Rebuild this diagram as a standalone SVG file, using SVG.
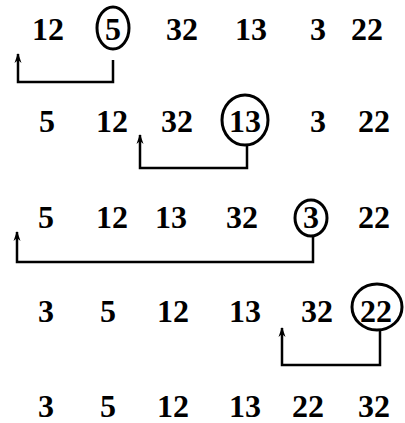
<svg xmlns="http://www.w3.org/2000/svg" width="405" height="423" viewBox="0 0 405 423">
<defs>
<style>
.num{font-weight:bold;font-size:32px;fill:#000;text-anchor:middle}
.ring{fill:none;stroke:#000;stroke-width:3}
.conn{fill:none;stroke:#000;stroke-width:2.5}
</style>
<marker id="ah" viewBox="0 0 10 8" refX="9" refY="4" markerWidth="10" markerHeight="8" markerUnits="userSpaceOnUse" orient="auto">
<path d="M0,0.5 L10,4 L0,7.5 L3,4 Z" fill="#000"/>
</marker>
</defs>
<rect width="405" height="423" fill="#fff"/>
<g font-family="Liberation Serif, Times New Roman, serif">
<g id="row1" class="num">
<text x="48" y="40">12</text>
<g id="r1-pivot"><ellipse class="ring" cx="113" cy="28" rx="16" ry="21"/><text x="113" y="40">5</text></g>
<text x="182" y="40">32</text>
<text x="251" y="40">13</text>
<text x="318" y="40">3</text>
<text x="367" y="40">22</text>
</g>
<g id="row2" class="num">
<text x="47" y="132">5</text>
<text x="112" y="132">12</text>
<text x="177" y="132">32</text>
<g id="r2-pivot"><ellipse class="ring" cx="245" cy="120" rx="23" ry="25"/><text x="245" y="132">13</text></g>
<text x="318" y="132">3</text>
<text x="374" y="132">22</text>
</g>
<g id="row3" class="num">
<text x="46" y="228">5</text>
<text x="112" y="228">12</text>
<text x="171" y="228">13</text>
<text x="242" y="228">32</text>
<g id="r3-pivot"><ellipse class="ring" cx="311" cy="218" rx="16" ry="18"/><text x="311" y="228">3</text></g>
<text x="374" y="228">22</text>
</g>
<g id="row4" class="num">
<text x="46" y="322">3</text>
<text x="108" y="322">5</text>
<text x="173" y="322">12</text>
<text x="245" y="322">13</text>
<text x="317" y="322">32</text>
<g id="r4-pivot"><ellipse class="ring" cx="377" cy="307" rx="25" ry="23"/><text x="376" y="322">22</text></g>
</g>
<g id="row5" class="num">
<text x="46" y="417">3</text>
<text x="108" y="417">5</text>
<text x="173" y="417">12</text>
<text x="245" y="417">13</text>
<text x="308" y="417">22</text>
<text x="374" y="417">32</text>
</g>
</g>
<g id="connectors">
<path class="conn" d="M113,60 V82 H18 V54" marker-end="url(#ah)"/>
<path class="conn" d="M247,146 V168 H140 V135" marker-end="url(#ah)"/>
<path class="conn" d="M313,236 V262 H17 V232" marker-end="url(#ah)"/>
<path class="conn" d="M380,330 V365 H282 V328" marker-end="url(#ah)"/>
</g>
</svg>
